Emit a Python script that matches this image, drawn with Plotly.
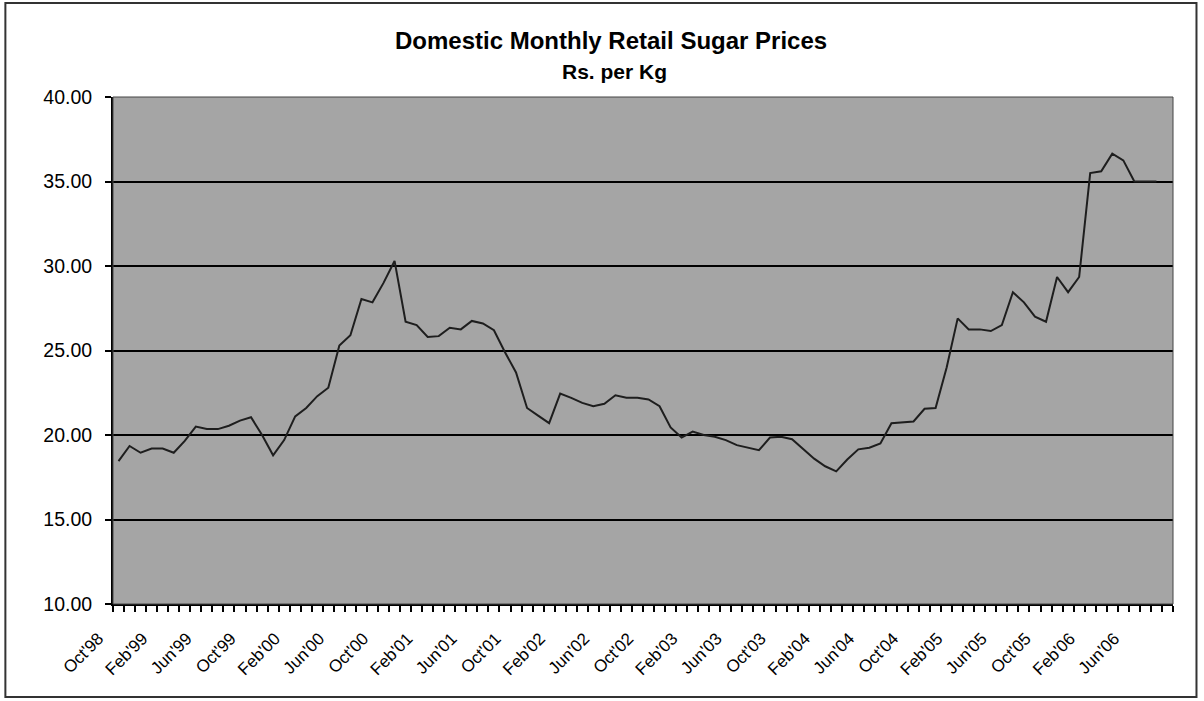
import plotly.graph_objects as go

# ---- data -------------------------------------------------------------
month_names = ["Jan", "Feb", "Mar", "Apr", "May", "Jun",
               "Jul", "Aug", "Sep", "Oct", "Nov", "Dec"]
# categories: Oct'98 .. Sep'06 (96 monthly slots)
months = []
for k in range(96):
    m = (9 + k) % 12
    y = 1998 + (9 + k) // 12
    months.append(f"{month_names[m]}'{str(y)[2:]}")

prices = [
    18.45, 19.35, 18.95, 19.2, 19.2, 18.95, 19.65, 20.5, 20.35, 20.35,
    20.55, 20.85, 21.05, 20.0, 18.8, 19.7, 21.1, 21.6, 22.3, 22.8,
    25.3, 25.9, 28.05, 27.85, 29.0, 30.3, 26.7, 26.5, 25.8, 25.85,
    26.35, 26.25, 26.75, 26.6, 26.2, 24.9, 23.7, 21.6, 21.15, 20.7,
    22.45, 22.2, 21.9, 21.7, 21.85, 22.35, 22.2, 22.2, 22.1, 21.7,
    20.45, 19.85, 20.2, 20.0, 19.9, 19.7, 19.4, 19.25, 19.1, 19.85,
    19.9, 19.75, 19.2, 18.6, 18.15, 17.85, 18.55, 19.15, 19.25, 19.5,
    20.7, 20.75, 20.8, 21.55, 21.6, 24.0, 26.9, 26.25, 26.25, 26.15,
    26.5, 28.45, 27.85, 27.0, 26.7, 29.35, 28.45, 29.35, 35.5, 35.6,
    36.65, 36.25, 35.0, 35.0, 35.0, None,
]

tick_labels = ["Oct'98", "Feb'99", "Jun'99", "Oct'99", "Feb'00", "Jun'00",
               "Oct'00", "Feb'01", "Jun'01", "Oct'01", "Feb'02", "Jun'02",
               "Oct'02", "Feb'03", "Jun'03", "Oct'03", "Feb'04", "Jun'04",
               "Oct'04", "Feb'05", "Jun'05", "Oct'05", "Feb'06", "Jun'06"]

y_ticks = [10, 15, 20, 25, 30, 35, 40]

title_line1 = "Domestic Monthly Retail Sugar Prices"
title_line2 = "Rs. per Kg"

# ---- figure -----------------------------------------------------------
W, H = 1204, 701
L, R, T, B = 112.7, 1173.5, 97, 604

fig = go.Figure()
fig.add_trace(go.Scatter(
    x=months, y=prices, mode="lines",
    line=dict(color="#1e1e1e", width=2),
    connectgaps=False, showlegend=False, hoverinfo="x+y",
))

def px_x(p):
    return (p - L) / (R - L)

def px_y(p):
    return (B - p) / (B - T)

fig.update_layout(
    width=W, height=H, autosize=False,
    margin=dict(l=L, r=W - R, t=T, b=H - B, pad=0),
    paper_bgcolor="white",
    plot_bgcolor="#a5a5a5",
    font=dict(family="Liberation Sans, Arial, sans-serif", color="black"),
    showlegend=False,
)

fig.update_xaxes(
    type="category",
    categoryorder="array", categoryarray=months,
    range=[-0.5, len(months) - 0.5],
    tickmode="array",
    tickvals=months,
    ticktext=[m if m in tick_labels else "" for m in months],
    tickson="boundaries",
    ticks="outside", ticklen=6, tickwidth=1.5, tickcolor="black",
    tickangle=-45,
    tickfont=dict(size=17, color="black"),
    showgrid=False,
    showline=True, linecolor="black", linewidth=2,
    zeroline=False,
    ticklabelstandoff=16,
    ticklabelshift=-20,
)

fig.update_yaxes(
    range=[10, 40],
    tickmode="array", tickvals=y_ticks,
    tickformat=".2f",
    ticks="outside", ticklen=6, tickwidth=1.5, tickcolor="black",
    tickfont=dict(size=19.5, color="black"),
    showgrid=True, gridcolor="black", gridwidth=2,
    showline=True, linecolor="black", linewidth=2,
    zeroline=False,
    ticklabelstandoff=9,
)

# thin plot-area border (top / right)
fig.add_shape(type="rect", xref="paper", yref="paper",
              x0=0, x1=1, y0=0, y1=1,
              line=dict(color="#444", width=1), layer="above")

# outer chart frame
fig.add_shape(type="rect", xref="paper", yref="paper",
              x0=px_x(5), x1=px_x(1197), y0=px_y(697), y1=px_y(3),
              line=dict(color="#333", width=2))

fig.add_annotation(text=f"<b>{title_line1}</b>", xref="paper", yref="paper",
                   x=px_x(611), y=px_y(40), showarrow=False,
                   xanchor="center", yanchor="middle",
                   font=dict(size=24, color="black"))
fig.add_annotation(text=f"<b>{title_line2}</b>", xref="paper", yref="paper",
                   x=px_x(615), y=px_y(72), showarrow=False,
                   xanchor="center", yanchor="middle",
                   font=dict(size=21, color="black"))

fig.write_html("out.html",
               config={"displayModeBar": False},
               post_script="document.body.style.margin='0';")
